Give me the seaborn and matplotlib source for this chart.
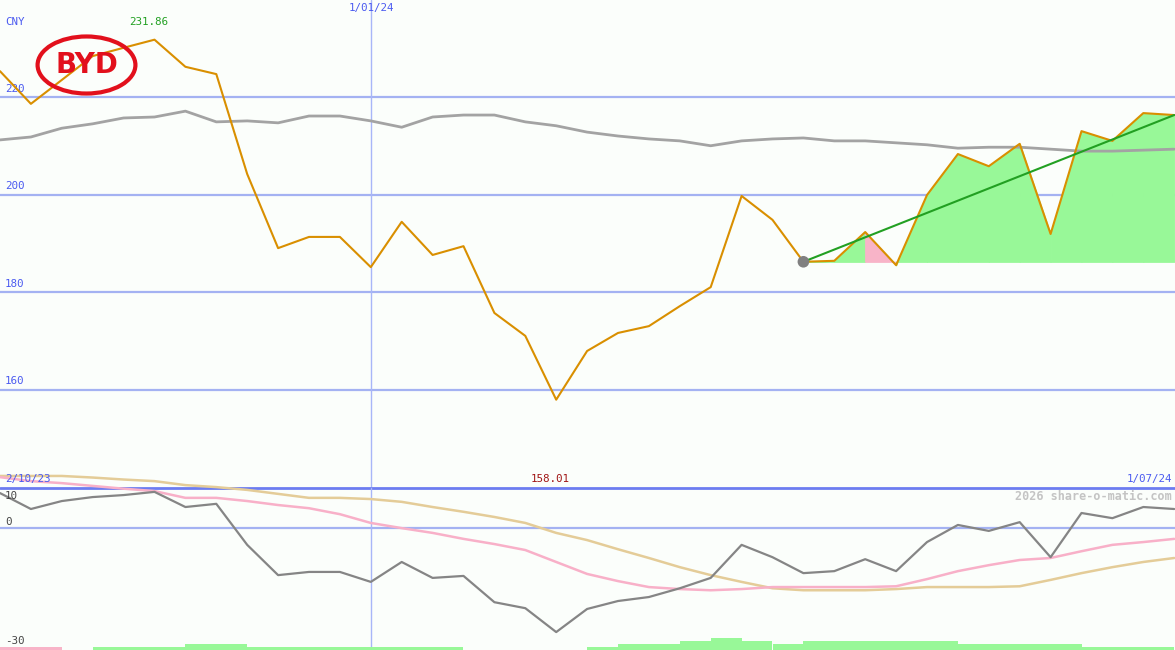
import numpy as np
import pandas as pd
import matplotlib
matplotlib.use("Agg")
import matplotlib.pyplot as plt
from matplotlib.patches import Ellipse
import seaborn as sns

# ---------------- data ----------------
price = [225.4, 218.7, 223.6, 228.5, 230.2, 231.86, 226.3, 224.8, 204.3, 189.1,
         191.4, 191.4, 185.2, 194.5, 187.7, 189.5, 175.8, 171.1, 158.01, 168.0,
         171.7, 173.1, 177.2, 181.1, 199.8, 194.9, 186.3, 186.5, 192.4, 185.6,
         200.0, 208.4, 205.9, 210.5, 192.0, 213.1, 211.1, 216.8, 216.4]
moving_avg = [211.3, 211.9, 213.7, 214.6, 215.8, 216.0, 217.2, 215.0, 215.2, 214.8,
              216.2, 216.2, 215.2, 213.9, 216.0, 216.4, 216.4, 215.0, 214.2, 212.9,
              212.1, 211.5, 211.1, 210.1, 211.1, 211.5, 211.7, 211.1, 211.1, 210.7,
              210.3, 209.6, 209.8, 209.8, 209.4, 209.0, 209.0, 209.2, 209.4]
momentum = [8.7, 4.7, 6.7, 7.7, 8.2, 9.0, 5.2, 6.0, -4.3, -11.9,
            -11.1, -11.1, -13.6, -8.6, -12.6, -12.1, -18.7, -20.2, -26.2, -20.4,
            -18.4, -17.4, -15.2, -12.6, -4.3, -7.4, -11.4, -10.9, -7.9, -10.9,
            -3.6, 0.7, -0.8, 1.4, -7.4, 3.7, 2.4, 5.2, 4.7]
signal_fast = [12.7, 11.7, 11.2, 10.5, 9.8, 9.2, 7.5, 7.5, 6.7, 5.7,
               4.9, 3.4, 1.2, -0.1, -1.3, -2.8, -4.1, -5.6, -8.6, -11.6,
               -13.4, -14.9, -15.4, -15.7, -15.4, -14.9, -14.9, -14.9, -14.9, -14.7,
               -12.9, -10.9, -9.4, -8.1, -7.6, -5.9, -4.3, -3.6, -2.8]
signal_slow = [13.0, 13.0, 13.0, 12.6, 12.1, 11.7, 10.7, 10.2, 9.5, 8.5,
               7.5, 7.5, 7.2, 6.5, 5.2, 4.0, 2.7, 1.2, -1.3, -3.1,
               -5.4, -7.6, -9.9, -11.9, -13.6, -15.2, -15.7, -15.7, -15.7, -15.4,
               -14.9, -14.9, -14.9, -14.7, -13.1, -11.4, -9.9, -8.6, -7.6]
volume_level = [1, 1, 0, 1, 1, 1, 2, 2, 1, 1, 1, 1, 1, 1, 1, 0, 0, 0, 0,
                1, 2, 2, 3, 4, 3, 2, 3, 3, 3, 3, 3, 2, 2, 2, 2, 1, 1, 1]
volume_dir = ["d", "d", "u", "u", "u", "u", "u", "u", "u", "u", "u", "u", "u", "u",
              "u", "u", "u", "u", "u", "u", "u", "u", "u", "u", "u", "u", "u", "u",
              "u", "u", "u", "u", "u", "u", "u", "u", "u", "u"]
price_ticks = [220, 200, 180, 160]
osc_ticks = [10, 0, -30]
date_labels = {0: "2/10/23", 12: "1/01/24", 38: "1/07/24"}
trend_start = 26
currency = "CNY"

# ---------------- style ----------------
BG = "#fbfefb"
BLUE_TXT = "#4a5af0"
GRID = "#a4b2f2"
SEP = "#6c7cf0"
PRICE_C = "#d98f00"
MA_C = "#a3a3a3"
GREEN_FILL = "#98f898"
PINK_FILL = "#f8b4c8"
TREND_C = "#22a022"
MONO = "DejaVu Sans Mono"
FS = 7.8

sns.set_style("white")
plt.rcParams["font.family"] = [MONO, "DejaVu Sans"]

W, H = 1175, 650
fig = plt.figure(figsize=(W / 100, H / 100), dpi=100, facecolor=BG)

n = len(price)
x = np.arange(n)
XMAX = W / 30.9

# upper panel (pixel rows 0..487)
ax1 = fig.add_axes([0, 163 / H, 1, 487 / H])
ax1.set_facecolor(BG)

for t in price_ticks:
    ax1.axhline(t, color=GRID, lw=1.6, zorder=1)
    ax1.text(0.004, t + 0.8, str(t), transform=ax1.get_yaxis_transform(),
             color=BLUE_TXT, fontsize=FS, va="bottom", ha="left", zorder=2)

ax1.axvline(12, color="#a8b6f8", lw=1.0, zorder=1)

# fill relative to base point (one colour per interval, edges hide seams)
base = price[trend_start]
for i in range(trend_start, n - 1):
    col = GREEN_FILL if price[i + 1] >= base else PINK_FILL
    ax1.fill_between(x[i:i + 2], price[i:i + 2], base, facecolor=col,
                     edgecolor=col, lw=0.8, zorder=2)

df = pd.DataFrame({"x": x, "price": price, "ma": moving_avg})
sns.lineplot(data=df, x="x", y="ma", color=MA_C, lw=2.0, ax=ax1, zorder=3)
sns.lineplot(data=df, x="x", y="price", color=PRICE_C, lw=1.5, ax=ax1, zorder=4)
trend = pd.DataFrame({"x": [trend_start, n - 1], "y": [price[trend_start], price[-1]]})
sns.lineplot(data=trend, x="x", y="y", color=TREND_C, lw=1.5, ax=ax1, zorder=5)
ax1.scatter([trend_start], [price[trend_start]], s=70, color="#808080", zorder=6,
            edgecolors="none")
ax1.set_xlim(0, XMAX)
ax1.set_ylim(140.1, 240.0)
ax1.axis("off")

# lower panel (pixel rows 465..650)
ax2 = fig.add_axes([0, 0, 1, 185 / H])
ax2.patch.set_alpha(0)
osc = pd.DataFrame({"x": x, "m": momentum, "f": signal_fast, "s": signal_slow})
ax2.axhline(10, color=SEP, lw=2.0, zorder=1)
ax2.axhline(0, color=GRID, lw=1.6, zorder=1)
ax2.axvline(12, ymax=(10 - (-30.7)) / (15.75 + 30.7), color="#a8b6f8", lw=1.0, zorder=1)
sns.lineplot(data=osc, x="x", y="s", color="#e4cc98", lw=1.8, ax=ax2, zorder=3)
sns.lineplot(data=osc, x="x", y="f", color="#f8b0c8", lw=1.8, ax=ax2, zorder=3)
sns.lineplot(data=osc, x="x", y="m", color="#858585", lw=1.6, ax=ax2, zorder=4)
ax2.set_xlim(0, XMAX)
ax2.set_ylim(-30.7, 15.75)
ax2.axis("off")

osc_label_y = {10: 496, 0: 522, -30: 641}
for t in osc_ticks:
    fig.text(5 / W, 1 - osc_label_y[t] / H, str(t), color="#454545", fontsize=FS,
             va="center", ha="left")

# volume strip
ax3 = fig.add_axes([0, 0, 1, 50 / H])
ax3.patch.set_alpha(0)
vx = np.arange(len(volume_level))
vcol = ["#f8b4c8" if d == "d" else "#98f898" for d in volume_dir]
ax3.bar(vx, volume_level, width=1.0, align="edge", color=vcol, lw=0)
ax3.set_xlim(0, XMAX)
ax3.set_ylim(0, 50 / 3)
ax3.axis("off")

# texts
fig.text(5 / W, 1 - 22 / H, currency, color=BLUE_TXT, fontsize=FS, va="center", ha="left")
imax = int(np.argmax(price))
imin = int(np.argmin(price))
fig.text((imax * 30.9 - 6) / W, 1 - 22 / H, f"{price[imax]:.2f}", color="#22a022",
         fontsize=FS, va="center", ha="center")
fig.text((imin * 30.9 - 6) / W, 1 - 479 / H, f"{price[imin]:.2f}", color="#a01414",
         fontsize=FS, va="center", ha="center")
fig.text((12 * 30.9 + 1) / W, 1 - 8 / H, date_labels[12], color=BLUE_TXT, fontsize=FS,
         va="center", ha="center")
fig.text(5 / W, 1 - 479 / H, date_labels[0], color=BLUE_TXT, fontsize=FS,
         va="center", ha="left", zorder=0)
fig.text(1172 / W, 1 - 479 / H, date_labels[38], color=BLUE_TXT, fontsize=FS,
         va="center", ha="right")
fig.text(1172 / W, 1 - 496 / H, "2026 share-o-matic.com", color="#c4c4c4",
         fontsize=8.5, fontweight="bold", va="center", ha="right")

# logo
axl = fig.add_axes([35 / W, 1 - 96 / H, 103 / W, 62 / H])
axl.set_xlim(0, 1)
axl.set_ylim(0, 1)
axl.axis("off")
axl.add_patch(Ellipse((0.5, 0.5), 0.95, 0.92, fill=False, ec="#e2101c", lw=3.0))
axl.text(0.5, 0.5, "BYD", color="#e2101c", fontsize=20, fontweight="heavy",
         family="DejaVu Sans", ha="center", va="center")

fig.savefig("out.png", dpi=100, facecolor=BG)
